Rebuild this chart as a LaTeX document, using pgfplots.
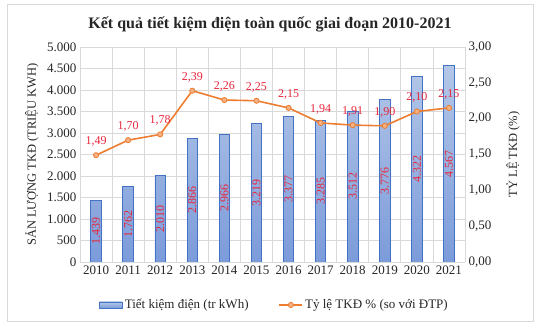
\documentclass[border=0pt]{standalone}
\usepackage{fontspec}
\setmainfont{Liberation Serif}
\usepackage{pgfplots}
\pgfplotsset{compat=1.18}
\definecolor{barTop}{HTML}{B4C7E7}
\definecolor{barBot}{HTML}{7B9BDA}
\definecolor{barBorder}{HTML}{4472C4}
\definecolor{lineOr}{HTML}{ED7D31}
\definecolor{markFill}{HTML}{F4B183}
\definecolor{labRed}{HTML}{E8253A}
\definecolor{gridc}{HTML}{D9D9D9}
\definecolor{txt}{HTML}{262626}
\begin{document}
\begin{tikzpicture}
\path (0pt,0pt) rectangle (541pt,328pt);
\draw[gridc, line width=0.8pt] (7pt,7pt) rectangle (533pt,324pt);
\node[font=\bfseries\fontsize{16}{18}\selectfont, text=txt] at (270pt,304pt) {Kết quả tiết kiệm điện toàn quốc giai đoạn 2010-2021};

\begin{axis}[
  at={(80pt,66pt)}, anchor=south west,
  width=385pt, height=215pt, scale only axis,
  xmin=-0.5, xmax=11.5, ymin=0, ymax=5000,
  ytick={0,500,...,5000},
  xtick={0,...,11},
  xticklabels={2010,2011,2012,2013,2014,2015,2016,2017,2018,2019,2020,2021},
  minor xtick={-0.5,0.5,...,11.5},
  xminorgrids, ymajorgrids,
  major grid style={gridc, line width=0.8pt},
  minor grid style={gridc, line width=0.8pt},
  axis line style={draw=none},
  major tick length=0pt, minor tick length=0pt,
  tick label style={font=\fontsize{13}{15}\selectfont, text=txt},
  y tick label style={/pgf/number format/.cd, 1000 sep={.}, assume math mode=true},
  x tick label style={/pgf/number format/assume math mode=true},
  ylabel={SẢN LƯỢNG TKĐ (TRIỆU KWH)},
  ylabel style={at={(axis description cs:-0.125,0.5)}, anchor=center, font=\fontsize{12.5}{14}\selectfont, text=txt},
  ybar, bar width=10.5pt, bar shift=0pt,
  visualization depends on={rawy \as \rawy},
  nodes near coords={\pgfmathprintnumber[assume math mode=true,1000 sep={.}]{\rawy}},
  every node near coord/.append style={anchor=center, yshift={-0.0215*\rawy}, rotate=90, font=\fontsize{12}{14}\selectfont, text=labRed},
]
\addplot[draw=barBorder, line width=0.8pt, top color=barTop, bottom color=barBot] coordinates {
(0,1439) (1,1762) (2,2010) (3,2866) (4,2966) (5,3219) (6,3377) (7,3285) (8,3512) (9,3776) (10,4322) (11,4567)};
\end{axis}

\begin{axis}[
  at={(80pt,66pt)}, anchor=south west,
  width=385pt, height=215pt, scale only axis,
  xmin=-0.5, xmax=11.5, ymin=0, ymax=3,
  ytick={0,0.5,...,3},
  axis x line=none,
  axis y line*=right,
  axis line style={draw=none},
  major tick length=0pt,
  tick label style={font=\fontsize{13}{15}\selectfont, text=txt},
  y tick label style={/pgf/number format/.cd, fixed, fixed zerofill, precision=2, use comma, assume math mode=true},
  ylabel={TỶ LỆ TKĐ (\%)},
  ylabel style={at={(axis description cs:1.125,0.5)}, anchor=center, font=\fontsize{12.5}{14}\selectfont, text=txt},
  legend style={at={(0.505,-0.2)}, anchor=center, draw=none, fill=none, legend columns=2,
    font=\fontsize{13}{15}\selectfont, text=txt,
    /tikz/every even column/.append style={column sep=28pt}},
  legend cell align=left,
]
\addlegendimage{legend image code/.code={\shade[top color=barTop,bottom color=barBot] (0pt,-3pt) rectangle (23pt,3pt); \draw[draw=barBorder, line width=0.8pt] (0pt,-3pt) rectangle (23pt,3pt);}}
\addlegendentry{Tiết kiệm điện (tr kWh)}
\addplot[lineOr, line width=1.6pt, mark=*, mark size=2.6pt, mark options={fill=markFill, draw=lineOr, line width=0.8pt},
  nodes near coords={\pgfmathprintnumber[fixed, fixed zerofill, precision=2, use comma, assume math mode=true]{\pgfplotspointmeta}},
  every node near coord/.append style={anchor=south, yshift=5pt, font=\fontsize{12}{14}\selectfont, text=labRed},
  legend image code/.code={\draw[lineOr, line width=1.6pt] (0pt,0pt) -- (23pt,0pt); \draw[fill=markFill, draw=lineOr, line width=0.8pt] (11.5pt,0pt) circle (2.6pt);}
] coordinates {
(0,1.49) (1,1.70) (2,1.78) (3,2.39) (4,2.26) (5,2.25) (6,2.15) (7,1.94) (8,1.91) (9,1.90) (10,2.10) (11,2.15)};
\addlegendentry{Tỷ lệ TKĐ \% (so với ĐTP)}
\end{axis}
\end{tikzpicture}
\end{document}
